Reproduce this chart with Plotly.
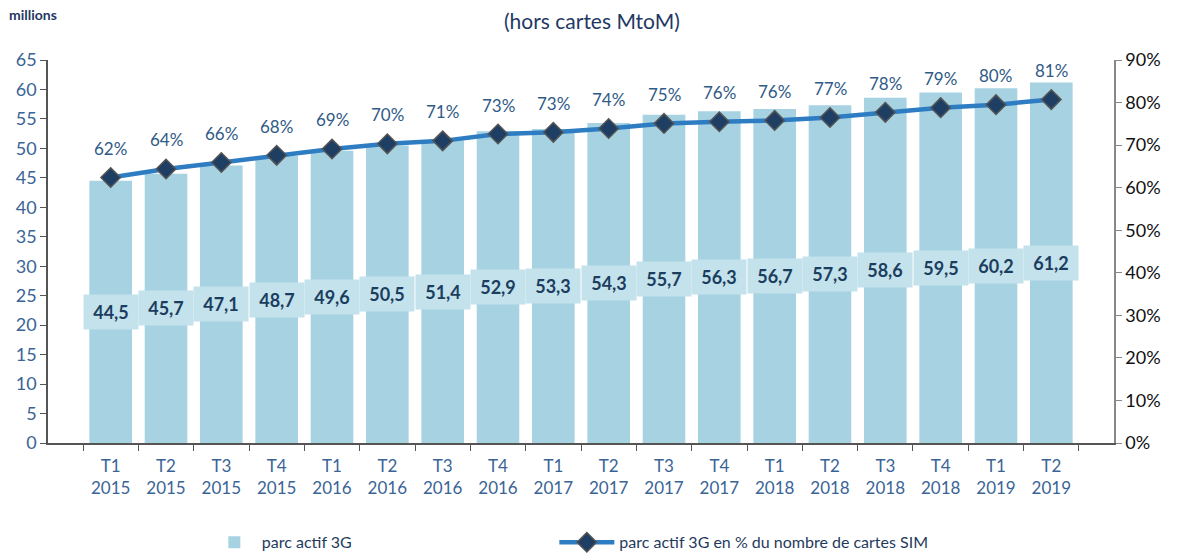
import plotly.graph_objects as go

quarters = ["T1", "T2", "T3", "T4", "T1", "T2", "T3", "T4", "T1", "T2", "T3", "T4", "T1", "T2", "T3", "T4", "T1", "T2"]
years = ["2015"] * 4 + ["2016"] * 4 + ["2017"] * 4 + ["2018"] * 4 + ["2019"] * 2
categories = [f"{q}<br>{y}" for q, y in zip(quarters, years)]
parc_3g = [44.5, 45.7, 47.1, 48.7, 49.6, 50.5, 51.4, 52.9, 53.3, 54.3, 55.7, 56.3, 56.7, 57.3, 58.6, 59.5, 60.2, 61.2]
pct_sim = [62.4, 64.4, 65.9, 67.6, 69.1, 70.3, 71.0, 72.6, 73.0, 73.9, 75.1, 75.5, 75.8, 76.5, 77.7, 78.8, 79.5, 80.7]
pct_labels = [62, 64, 66, 68, 69, 70, 71, 73, 73, 74, 75, 76, 76, 77, 78, 79, 80, 81]

FONT = "Lato"
NAVY = "#1f3b5c"
STEEL = "#3a6496"

fig = go.Figure()
fig.add_trace(go.Bar(
    x=categories, y=parc_3g, name="parc actif 3G",
    marker=dict(color="#a6d2e2", line=dict(width=0)),
    width=0.77, legend="legend",
))
fig.add_trace(go.Scatter(
    x=categories, y=pct_sim, yaxis="y2", mode="lines+markers",
    name="parc actif 3G en % du nombre de cartes SIM",
    line=dict(color="#2e7cc2", width=4.5),
    marker=dict(symbol="diamond", size=15, color="#1e3f63", line=dict(color="#555555", width=1.5)),
    legend="legend2",
))

annotations = []
for c, v in zip(categories, parc_3g):
    annotations.append(dict(
        x=c, y=v / 2, xref="x", yref="y", text="<b>" + f"{v:.1f}".replace(".", ",") + "</b>",
        showarrow=False, bgcolor="#c4e2ec", width=50, height=30, borderpad=2,
        font=dict(family=FONT, size=18, color="#1b3d5e"),
    ))
for c, v, lab in zip(categories, pct_sim, pct_labels):
    annotations.append(dict(
        x=c, y=v, xref="x", yref="y2", text=f"{lab}%", showarrow=False, yshift=29,
        font=dict(family=FONT, size=17, color="#2f5a86"),
    ))
annotations.append(dict(
    x=0.51, y=1.0, xref="paper", yref="paper", yanchor="middle", yshift=40,
    text="(hors cartes MtoM)", showarrow=False,
    font=dict(family=FONT, size=21, color="#1f3864"),
))
annotations.append(dict(
    x=0, xref="paper", xanchor="left", xshift=-41, y=1.0, yref="paper", yanchor="middle", yshift=46,
    text="<b>millions</b>", showarrow=False,
    font=dict(family=FONT, size=14, color="#1f3864"),
))

legend_common = dict(
    orientation="h", xanchor="left", y=-0.215, yanchor="top",
    font=dict(family=FONT, size=16, color=NAVY), bgcolor="rgba(0,0,0,0)",
)

fig.update_layout(
    width=1182, height=555,
    margin=dict(l=48, r=68, t=60, b=112, autoexpand=False),
    paper_bgcolor="white", plot_bgcolor="white",
    font=dict(family=FONT, size=16, color=STEEL),
    bargap=0.23,
    showlegend=True,
    legend=dict(x=0.149, itemwidth=45, **legend_common),
    legend2=dict(x=0.475, itemwidth=55, **legend_common),
    xaxis=dict(
        type="category", showgrid=False, showline=True, linecolor="#555555", linewidth=1.5,
        ticks="outside", tickson="boundaries", ticklen=6, tickcolor="#555555",
        tickfont=dict(family=FONT, size=17, color=STEEL), automargin=False,
        ticklabelstandoff=7,
    ),
    yaxis=dict(
        range=[0, 65], dtick=5, showgrid=False, zeroline=False, showline=True,
        linecolor="#555555", linewidth=1.5, ticks="outside", ticklen=6, tickcolor="#555555",
        tickfont=dict(family=FONT, size=18, color=STEEL), automargin=False,
    ),
    yaxis2=dict(
        range=[0, 90], dtick=10, overlaying="y", side="right", showgrid=False, zeroline=False,
        showline=True, linecolor="#888888", linewidth=1.5, ticks="outside", ticklen=6,
        tickcolor="#888888", ticksuffix="%",
        tickfont=dict(family=FONT, size=18, color="#111111"), automargin=False,
    ),
    annotations=annotations,
)

post = (
    "document.body.style.margin='0';document.body.style.padding='0';"
    "document.body.style.overflow='hidden';"
    "var gd=document.getElementById('{plot_id}');"
    "Plotly.relayout(gd,{width:1182,height:555});"
)
fig.write_html("out.html", post_script=post, config={"displayModeBar": False})
